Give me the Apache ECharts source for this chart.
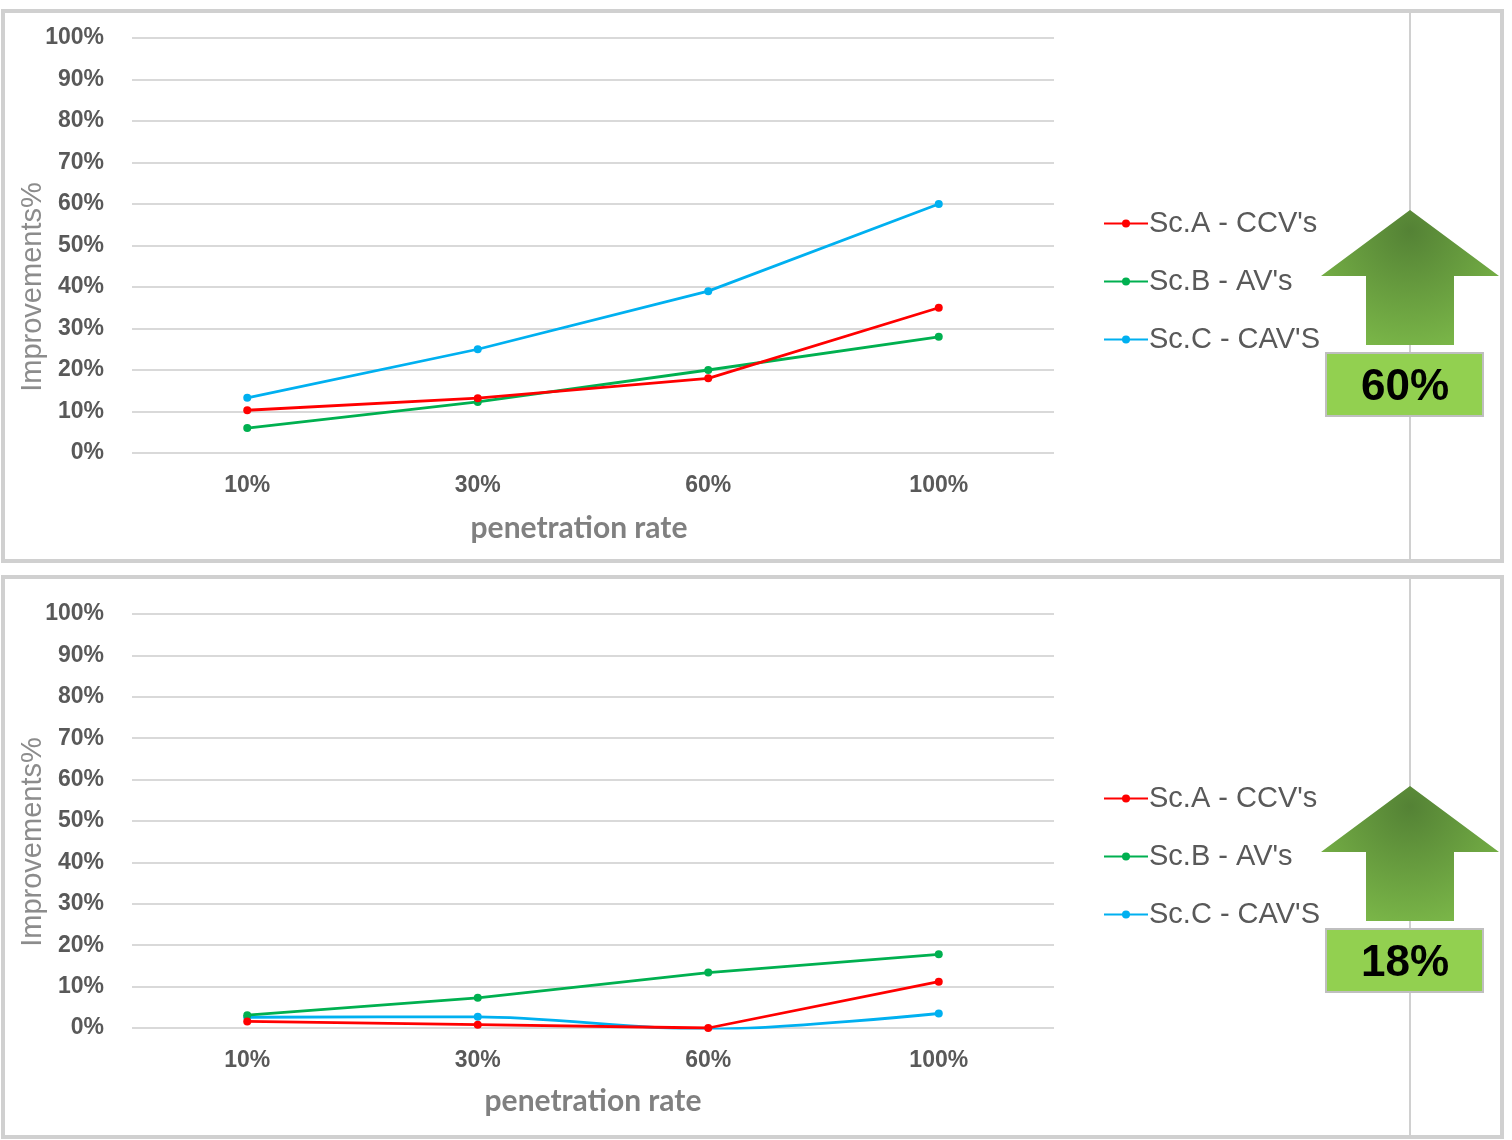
<!DOCTYPE html>
<html>
<head>
<meta charset="utf-8">
<script src="https://cdn.jsdelivr.net/npm/echarts@6/dist/echarts.min.js"></script>
<style>html,body{margin:0;padding:0;background:#fff;}#c{width:1512px;height:1140px;}</style>
</head>
<body>
<div id="c"></div>
<script>
const categories = ['10%', '30%', '60%', '100%'];
const seriesNames = ["Sc.A - CCV's", "Sc.B - AV's", "Sc.C - CAV'S"];
const topA = [10.3, 13.2, 18, 35];
const topB = [6, 12.3, 20, 28];
const topC = [13.3, 25, 39, 60];
const botA = [1.6, 0.8, 0, 11.2];
const botB = [3.1, 7.3, 13.4, 17.8];
const botC = [2.6, 2.7, -0.3, 3.5];
const yTicks = [0, 10, 20, 30, 40, 50, 60, 70, 80, 90, 100];
const badges = ['60%', '18%'];
const xName = 'penetration rate';
const yName = 'Improvements%';
const colors = ['#ff0000', '#00b050', '#00b0f0'];

const chart = echarts.init(document.getElementById('c'));

function xAxis(gi, gap, padRight) {
  return {
    type: 'category', gridIndex: gi, data: categories, boundaryGap: true,
    axisLine: {show: false}, axisTick: {show: false},
    axisLabel: {color: '#595959', fontSize: 23, fontWeight: 'bold', fontFamily: 'Liberation Sans, Arial', margin: 21},
    name: xName, nameLocation: 'middle', nameGap: gap,
    nameTextStyle: {color: '#808080', fontSize: 30, fontWeight: 'bold', fontFamily: 'Lato, Open Sans', padding: [0, padRight, 0, 0]}
  };
}
function yAxis(gi) {
  return {
    type: 'value', gridIndex: gi, min: yTicks[0], max: yTicks[yTicks.length - 1], interval: 10,
    axisLine: {show: false}, axisTick: {show: false},
    splitLine: {lineStyle: {color: '#d9d9d9', width: 2}},
    axisLabel: {formatter: '{value}%', color: '#595959', fontSize: 23, fontWeight: 'bold', fontFamily: 'Liberation Sans, Arial', margin: 28}
  };
}
function mk(name, data, gi, ci, smooth) {
  return {
    name: name, type: 'line', xAxisIndex: gi, yAxisIndex: gi, data: data,
    smooth: smooth || false,
    symbol: 'circle', symbolSize: 8,
    lineStyle: {color: colors[ci], width: 2.8},
    itemStyle: {color: colors[ci]},
    z: 5 - ci
  };
}
function legend(top) {
  return {
    orient: 'vertical', left: 1098, top: top, itemGap: 29, itemWidth: 44, itemHeight: 10,
    data: seriesNames,
    textStyle: {color: '#595959', fontSize: 29, fontFamily: 'Liberation Sans, Arial', padding: [0, 0, 0, -4]}
  };
}
function arrow(tipY, label) {
  const cx = 1410;
  const wingY = tipY + 66, shaftB = tipY + 135;
  return [
    {type: 'polygon', z: 10, shape: {points: [[cx, tipY], [cx + 89, wingY], [cx + 44, wingY], [cx + 44, shaftB], [cx - 44, shaftB], [cx - 44, wingY], [cx - 89, wingY]]},
     style: {fill: new echarts.graphic.RadialGradient(0.5, 0.15, 0.9, [{offset: 0, color: '#548235'}, {offset: 1, color: '#7ab648'}])}},
    {type: 'rect', z: 10, shape: {x: 1326, y: tipY + 143, width: 157, height: 63}, style: {fill: '#92d050', stroke: '#bfbfbf', lineWidth: 2}},
    {type: 'text', z: 11, x: 1405, y: tipY + 178, style: {text: label, fill: '#000', fontSize: 44, fontWeight: 'bold', fontFamily: 'Liberation Sans, Arial', align: 'center', verticalAlign: 'middle'}}
  ];
}
function yTitle(cy) {
  return {type: 'text', z: 5, x: 33, y: cy, rotation: Math.PI / 2,
    style: {text: yName, fill: '#8c8c8c', fontSize: 29, fontFamily: 'Liberation Sans, Arial', align: 'center', verticalAlign: 'middle'}};
}

const option = {
  animation: false,
  backgroundColor: '#fff',
  grid: [
    {left: 132, top: 38, width: 922, height: 415},
    {left: 132, top: 614, width: 922, height: 414}
  ],
  xAxis: [xAxis(0, 60, 28), xAxis(1, 58, 0)],
  yAxis: [yAxis(0), yAxis(1)],
  legend: [legend(204), legend(779)],
  series: [
    mk(seriesNames[0], topA, 0, 0), mk(seriesNames[1], topB, 0, 1), mk(seriesNames[2], topC, 0, 2),
    mk(seriesNames[0], botA, 1, 0), mk(seriesNames[1], botB, 1, 1), mk(seriesNames[2], botC, 1, 2, 0.3)
  ],
  graphic: [
    {type: 'rect', z: -1, shape: {x: 3, y: 11, width: 1499, height: 550}, style: {fill: 'none', stroke: '#d0d0d0', lineWidth: 4}},
    {type: 'rect', z: -1, shape: {x: 3, y: 577, width: 1499, height: 560}, style: {fill: 'none', stroke: '#d0d0d0', lineWidth: 4}},
    {type: 'line', z: 0, shape: {x1: 1410, y1: 13, x2: 1410, y2: 559}, style: {stroke: '#d0d0d0', lineWidth: 2}},
    {type: 'line', z: 0, shape: {x1: 1410, y1: 579, x2: 1410, y2: 1135}, style: {stroke: '#d0d0d0', lineWidth: 2}},
    yTitle(287),
    yTitle(842),
    ...arrow(210, badges[0]),
    ...arrow(786, badges[1])
  ]
};
chart.setOption(option);
</script>
</body>
</html>
